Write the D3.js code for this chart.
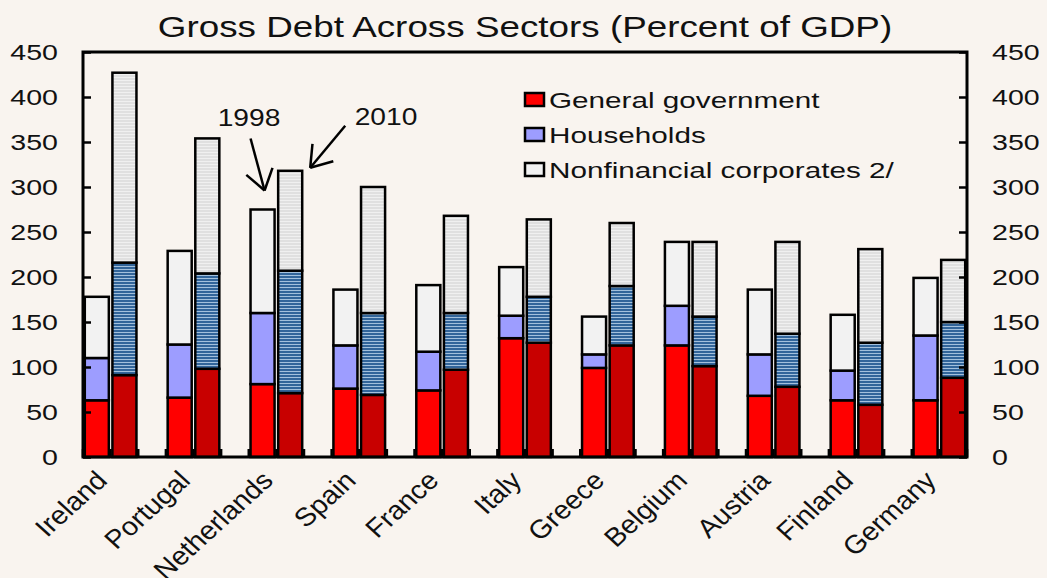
<!DOCTYPE html>
<html>
<head>
<meta charset="utf-8">
<script src="https://cdn.jsdelivr.net/npm/d3@7"></script>
<style>
  html, body { margin: 0; padding: 0; background: #F9F4EF; }
  svg { display: block; font-family: "Liberation Sans", Arial, sans-serif; }
</style>
</head>
<body>
<svg id="chart" width="1047" height="578"></svg>
<script>
// Gross debt by sector, percent of GDP, 1998 vs 2010
const countries = ["Ireland", "Portugal", "Netherlands", "Spain", "France", "Italy",
                   "Greece", "Belgium", "Austria", "Finland", "Germany"];
const years = ["1998", "2010"];
const sectors = ["General government", "Households", "Nonfinancial corporates 2/"];

const gov1998 = [63, 66, 81, 76, 74, 132, 99, 124, 68, 63, 63];
const hh1998  = [47, 59, 79, 48, 43, 25, 15, 44, 46, 33, 72];
const nfc1998 = [68, 104, 115, 62, 74, 54, 42, 71, 72, 62, 64];

const gov2010 = [91, 98, 71, 69, 97, 127, 124, 101, 78, 58, 88];
const hh2010  = [125, 106, 136, 91, 63, 51, 66, 55, 59, 69, 62];
const nfc2010 = [211, 150, 111, 140, 108, 86, 70, 83, 102, 104, 69];

const yTicks = [0, 50, 100, 150, 200, 250, 300, 350, 400, 450];

const svg = d3.select("#chart");
const plotL = 83, plotR = 967, plotT = 52, plotB = 457;

// text is drawn horizontally widened, like the rest of the figure
const SX = 1.27;

// patterns for the 2010 bars
const defs = svg.append("defs");
const hhPat = defs.append("pattern").attr("id", "hhStripe")
  .attr("patternUnits", "userSpaceOnUse").attr("width", 8).attr("height", 3);
hhPat.append("rect").attr("width", 8).attr("height", 3).attr("fill", "#32659A");
hhPat.append("rect").attr("y", 2).attr("width", 8).attr("height", 1).attr("fill", "#A3C0DC");
const nfcPat = defs.append("pattern").attr("id", "nfcStripe")
  .attr("patternUnits", "userSpaceOnUse").attr("width", 8).attr("height", 3);
nfcPat.append("rect").attr("width", 8).attr("height", 3).attr("fill", "#E0E0E0");
nfcPat.append("rect").attr("y", 2).attr("width", 8).attr("height", 1).attr("fill", "#F0F0F0");

const fills = {
  "1998": ["#FF0000", "#9D9DFF", "#F2F2F2"],
  "2010": ["#C80000", "url(#hhStripe)", "url(#nfcStripe)"]
};

// one slot per bar plus a spacer slot between countries
const slots = [];
countries.forEach((c, i) => {
  years.forEach(yr => slots.push(c + "|" + yr));
  if (i < countries.length - 1) slots.push(c + "|gap");
});

const x = d3.scaleBand().domain(slots).range([plotL, plotR])
  .paddingInner(0.13).paddingOuter(0.065);
const y = d3.scaleLinear().domain([0, 450]).range([plotB, plotT]);

// stacked data
const rows = [];
countries.forEach((c, i) => {
  rows.push({ country: c, year: "1998", vals: [gov1998[i], hh1998[i], nfc1998[i]] });
  rows.push({ country: c, year: "2010", vals: [gov2010[i], hh2010[i], nfc2010[i]] });
});

const bars = svg.append("g");
rows.forEach(r => {
  let base = 0;
  r.vals.forEach((v, k) => {
    bars.append("rect")
      .attr("x", x(r.country + "|" + r.year))
      .attr("width", x.bandwidth())
      .attr("y", y(base + v))
      .attr("height", y(base) - y(base + v))
      .attr("fill", fills[r.year][k])
      .attr("stroke", "#000")
      .attr("stroke-width", 2.5);
    base += v;
  });
});

// frame
const frame = svg.append("g").attr("stroke", "#000").attr("stroke-width", 3).attr("fill", "none");
frame.append("rect").attr("x", plotL).attr("y", plotT).attr("width", plotR - plotL).attr("height", plotB - plotT);

// axes (ticks pointing inwards)
const yLeft = d3.axisLeft(y).tickValues(yTicks).tickSize(-8);
const yRight = d3.axisRight(y).tickValues(yTicks).tickSize(-8);
const gL = svg.append("g").attr("transform", `translate(${plotL},0)`).call(yLeft);
const gR = svg.append("g").attr("transform", `translate(${plotR},0)`).call(yRight);
[[gL, -25], [gR, 25]].forEach(([g, off]) => {
  g.select(".domain").remove();
  g.selectAll(".tick line").attr("stroke", "#000").attr("stroke-width", 2.5);
  g.selectAll(".tick text")
    .attr("font-size", 22.5).attr("fill", "#111")
    .attr("font-family", "Liberation Sans, Arial, sans-serif")
    .attr("x", off / SX)
    .attr("transform", `scale(${SX},1)`);
});

// small category ticks along the base
const step = x.step();
const bounds = slots.map(s => x(s) - step * x.paddingInner() / 2);
bounds.push(x(slots[slots.length - 1]) + x.bandwidth() + step * x.paddingInner() / 2);
svg.append("g").selectAll("line").data(bounds).join("line")
  .attr("x1", d => d).attr("x2", d => d)
  .attr("y1", plotB).attr("y2", plotB - 8)
  .attr("stroke", "#000").attr("stroke-width", 2.5);

// country labels
svg.append("g").selectAll("text").data(countries).join("text")
  .attr("transform", c => `translate(${x(c + "|1998") + x.bandwidth() / 2 + 12},482) scale(1.1,1) rotate(-45)`)
  .attr("text-anchor", "end")
  .attr("font-size", 26)
  .attr("fill", "#111")
  .text(c => c);

// title
svg.append("text").attr("transform", `translate(525,37) scale(${SX},1)`)
  .attr("text-anchor", "middle")
  .attr("font-size", 29).attr("fill", "#111")
  .text("Gross Debt Across Sectors (Percent of GDP)");

// legend
const legend = svg.append("g").attr("transform", "translate(525,93)");
sectors.forEach((s, k) => {
  const g = legend.append("g").attr("transform", `translate(0,${k * 35})`);
  g.append("rect").attr("width", 19).attr("height", 13)
    .attr("fill", fills["1998"][k]).attr("stroke", "#000").attr("stroke-width", 2.5);
  g.append("text").attr("transform", `translate(24,15) scale(1.32,1)`)
    .attr("font-size", 22.5).attr("fill", "#111").text(s);
});

// year annotations pointing at the Netherlands pair
const nlTot98 = gov1998[2] + hh1998[2] + nfc1998[2];
const nlTot10 = gov2010[2] + hh2010[2] + nfc2010[2];
const tip98 = [x("Netherlands|1998") + x.bandwidth() / 2 + 2, y(nlTot98) - 19];
const tip10 = [x("Netherlands|2010") + x.bandwidth() + 8, y(nlTot10) - 3];

function arrow(from, tip, armLen) {
  const ang = Math.atan2(tip[1] - from[1], tip[0] - from[0]);
  const a = svg.append("g").attr("stroke", "#000").attr("stroke-width", 2.5).attr("fill", "none");
  a.append("line").attr("x1", from[0]).attr("y1", from[1]).attr("x2", tip[0]).attr("y2", tip[1]);
  [-0.6, 0.6].forEach(d => {
    a.append("line").attr("x1", tip[0]).attr("y1", tip[1])
      .attr("x2", tip[0] - armLen * Math.cos(ang + d))
      .attr("y2", tip[1] - armLen * Math.sin(ang + d));
  });
}
arrow([tip98[0] - 14, tip98[1] - 52], tip98, 24);
arrow([tip10[0] + 35, tip10[1] - 42], tip10, 24);

svg.append("text").attr("transform", "translate(249,126) scale(1.15,1)")
  .attr("text-anchor", "middle")
  .attr("font-size", 24.5).attr("fill", "#111").text("1998");
svg.append("text").attr("transform", "translate(386,125) scale(1.15,1)")
  .attr("text-anchor", "middle")
  .attr("font-size", 24.5).attr("fill", "#111").text("2010");
</script>
</body>
</html>
